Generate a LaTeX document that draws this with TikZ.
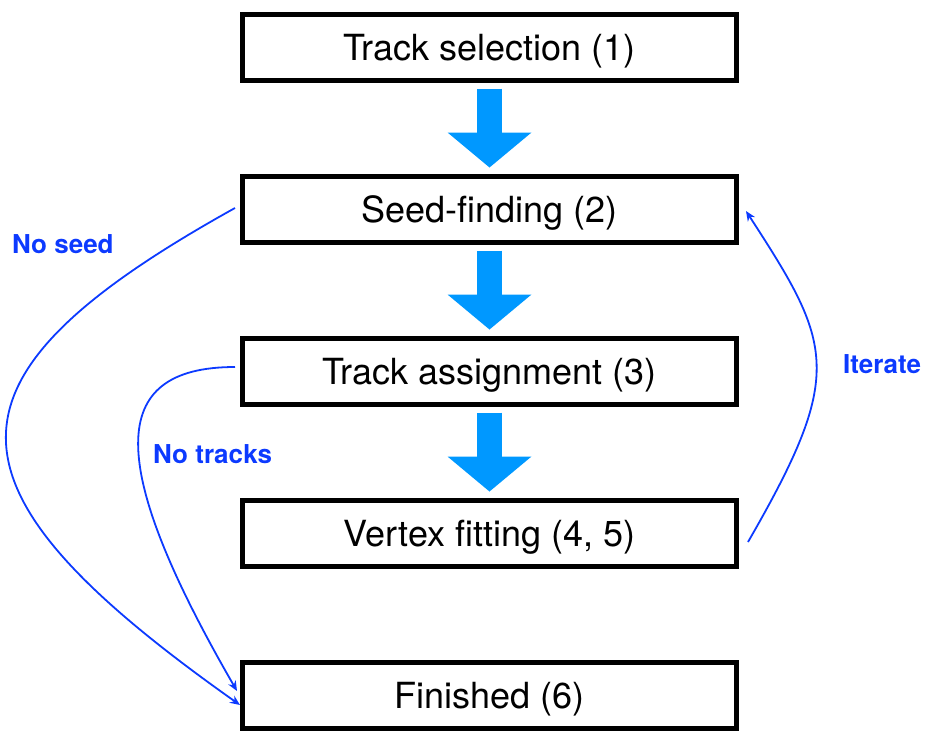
\documentclass[tikz,border=0pt]{standalone}
\usepackage{fontspec}
\setmainfont{TeX Gyre Heros}
\usetikzlibrary{positioning, arrows.meta}
\definecolor{flowcyan}{RGB}{0,152,255}
\definecolor{loopblue}{RGB}{12,58,255}

\begin{document}
\begin{tikzpicture}[x=1pt, y=-1pt,
	stage/.style={draw, line width=5pt, minimum width=494pt, minimum height=66pt, inner sep=0pt,
		text height=26.5pt, text depth=0pt, font=\fontsize{36}{43}\selectfont},
	flow/.style={draw=flowcyan, line width=25pt, shorten <=6pt, shorten >=6pt,
		-{Triangle[width=84pt, length=35pt, line width=0pt]}},
	jump/.style={draw=loopblue, line width=1.8pt, -{Stealth[length=10pt, width=8.5pt]}},
	tag/.style={text=loopblue, anchor=base west, inner sep=0pt, font=\bfseries\fontsize{26}{31}\selectfont}]
	\useasboundingbox (0,0) rectangle (927,731);
	% stages
	\node[stage] (select) at (489.5,47) {Track selection (1)};
	\node[stage, below=91pt of select] (seed) {Seed-finding (2)};
	\node[stage, below=91pt of seed] (assign) {Track assignment (3)};
	\node[stage, below=91pt of assign] (fit) {Vertex fitting (4, 5)};
	\node[stage, below=91pt of fit] (done) {Finished (6)};
	% main flow
	\foreach \a/\b in {select/seed, seed/assign, assign/fit} {
		\draw[flow] (\a) -- (\b);
	};
	% exits and loop
	\draw[jump] ([shift={(-5,-1)}]seed.west) .. controls +(-306,170) and +(-310,-219) .. ([shift={(0,10)}]done.west);
	\draw[jump] ([shift={(-5,-4)}]assign.west) .. controls +(-130,0) and +(-130,-225) .. ([shift={(-3,-4)}]done.west);
	\draw[jump] ([shift={(9,9)}]fit.east) .. controls +(97.5,-169) and +(87,134) .. ([shift={(7,2)}]seed.east);
	\node[tag] (noseed) at (12,253) {No seed};
	\node[tag] (notracks) at (153,463) {No tracks};
	\node[tag] (iterate) at (843,373) {Iterate};
\end{tikzpicture}
\end{document}
